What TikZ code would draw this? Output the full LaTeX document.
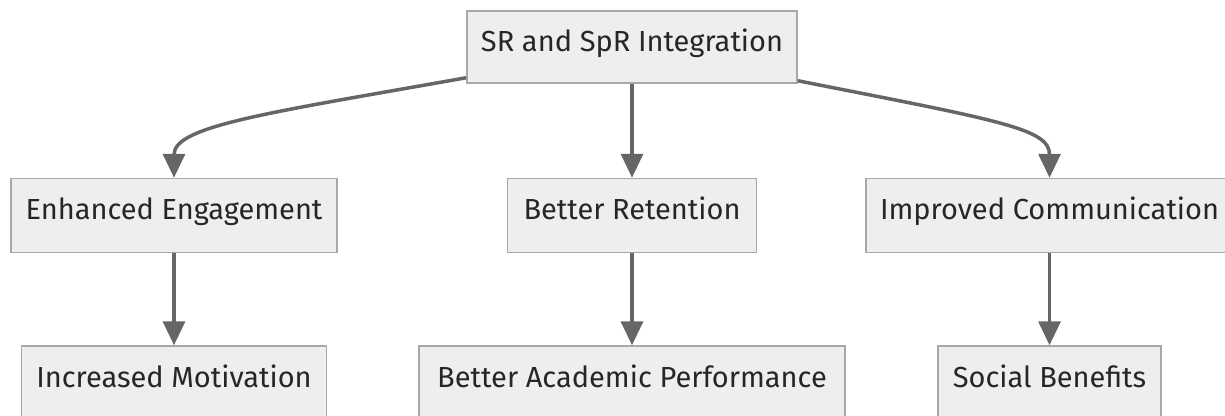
\documentclass[tikz,border=0pt]{standalone}
\usepackage{fontspec}
\setmainfont{Fira Sans}
\usetikzlibrary{arrows.meta, positioning}
\definecolor{boxfill}{HTML}{EEEEEE}
\definecolor{boxline}{HTML}{A8A8A8}
\definecolor{edgegray}{HTML}{666666}
\tikzstyle{box} = [rectangle, minimum height=74pt, inner xsep=14pt, text height=20pt, text depth=12pt, align=center, draw=boxline, line width=1.5pt, fill=boxfill, text=black!85, font=\fontsize{29}{33}\selectfont]
\tikzstyle{arrow} = [line width=3.5pt, draw=edgegray, -{Triangle[length=24pt, width=22pt]}]

\begin{document}
\begin{tikzpicture}[x=1pt, y=1pt]
      \useasboundingbox (0,0) rectangle (1225,-415);

      % top
      \node[box, minimum width=330pt, minimum height=72pt] (srspr) at (632,-47) {SR and SpR Integration};

      % middle row
      \node[box, minimum width=249pt, below=94pt of srspr] (retention) {Better Retention};
      \node[box, minimum width=326pt, left=169pt of retention] (engage) {Enhanced Engagement};
      \node[box, minimum width=366pt, right=108pt of retention] (comm) {Improved Communication};

      % bottom row
      \node[box, minimum width=305pt, below=92pt of engage] (motiv) {Increased Motivation};
      \node[box, minimum width=426pt, below=92pt of retention] (perf) {Better Academic Performance};
      \node[box, minimum width=223pt, below=92pt of comm] (social) {Social Benefits};

      % arrows
      \draw[arrow] ([yshift=6pt]srspr.south west) .. controls +(-197,-35) and +(0,52) .. (engage.north);
      \draw[arrow] (srspr) -- (retention);
      \draw[arrow] ([yshift=3pt]srspr.south east) .. controls +(203,-40) and +(0,49) .. (comm.north);

      \draw[arrow] (engage) -- (motiv);
      \draw[arrow] (retention) -- (perf);
      \draw[arrow] (comm) -- (social);
\end{tikzpicture}
\end{document}
